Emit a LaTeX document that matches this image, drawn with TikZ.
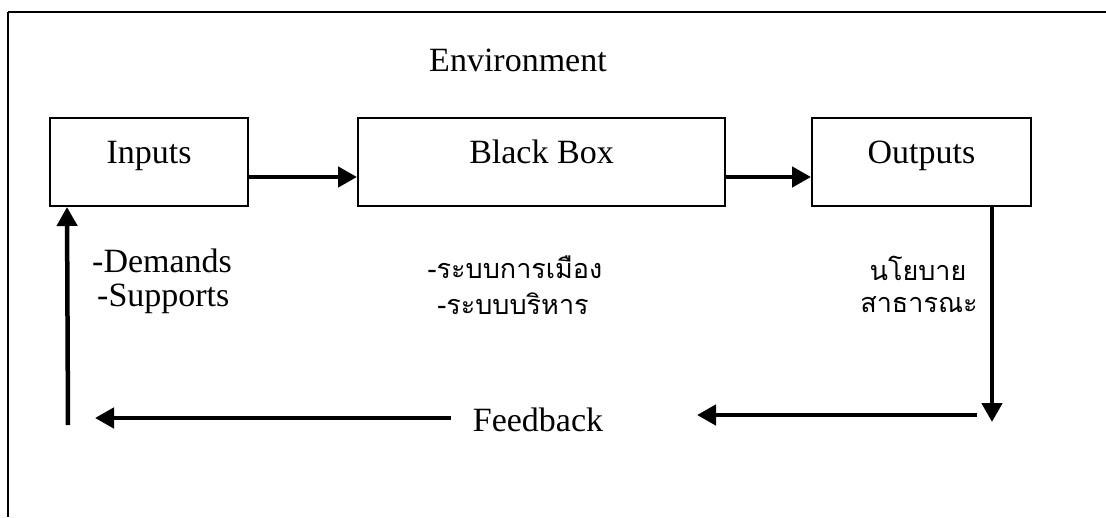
\documentclass[tikz,border=0pt]{standalone}
\usepackage{fontspec}
\setmainfont{Liberation Serif}
\newfontfamily\thaifont[Script=Thai]{Loma}
\usetikzlibrary{arrows.meta,positioning}

\tikzset{
  sysbox/.style={draw, line width=2pt, minimum height=88pt, inner sep=0pt,
    text height=22pt, text depth=20pt},
  flow/.style={line width=4.5pt, -{Triangle[length=19pt,width=20pt]}},
  lbl/.style={inner sep=0pt},
  thailbl/.style={inner sep=0pt, font=\thaifont\fontsize{27}{32}\selectfont}
}

\begin{document}
\begin{tikzpicture}[x=1pt, y=-1pt, font=\fontsize{34}{40}\selectfont]

% paper size:
\pgfmathsetmacro\pwidth{1106};
\pgfmathsetmacro\pheight{517};

\useasboundingbox (0,0) rectangle (\pwidth,\pheight);

% environment frame (cut off right and below)
\coordinate (frametl) at (8,12);
\draw[line width=2pt] (frametl) -- (\pwidth,12);
\draw[line width=2pt] (frametl) -- (8,\pheight);
\node[lbl] (env) at (518,60) {Environment};

% the three boxes
\node[sysbox, minimum width=198pt] (inputs) at (149,162) {Inputs};
\node[sysbox, minimum width=367pt] (blackbox) at (541.5,162) {Black Box};
\node[sysbox, minimum width=219pt] (outputs) at (921.5,162) {Outputs};

\draw[flow] ([yshift=-15pt]inputs.east) -- ([yshift=-15pt]blackbox.west);
\draw[flow] ([yshift=-15pt]blackbox.east) -- ([yshift=-15pt]outputs.west);

% side texts
\node[lbl, anchor=west] (demands) at (92,261) {-Demands};
\node[lbl, anchor=west] (supports) at (97,299) {-Supports};
\node[thailbl] (politics) at (515,267) {-ระบบการเมือง};
\node[thailbl] (admin) at (513,304) {-ระบบบริหาร};
\node[thailbl] (policy) at (918,268) {นโยบาย};
\node[thailbl] (public) at (919,305) {สาธารณะ};

% feedback loop
\coordinate (outdown) at (992,422);
\coordinate (fbstart) at (977,415);
\coordinate (fbmid) at (697,415);
\coordinate (fbleft) at (95,418);
\coordinate (inup) at (68,425);
\node[lbl] (feedback) at (538,420) {Feedback};

\draw[flow] ([xshift=70.5pt]outputs.south) -- (outdown);
\draw[flow] (fbstart) -- (fbmid);
\draw[flow] ([xshift=-22pt]feedback.west |- fbleft) -- (fbleft);
\draw[flow] (inup) -- ([xshift=18pt]inputs.south west);

\end{tikzpicture}
\end{document}
